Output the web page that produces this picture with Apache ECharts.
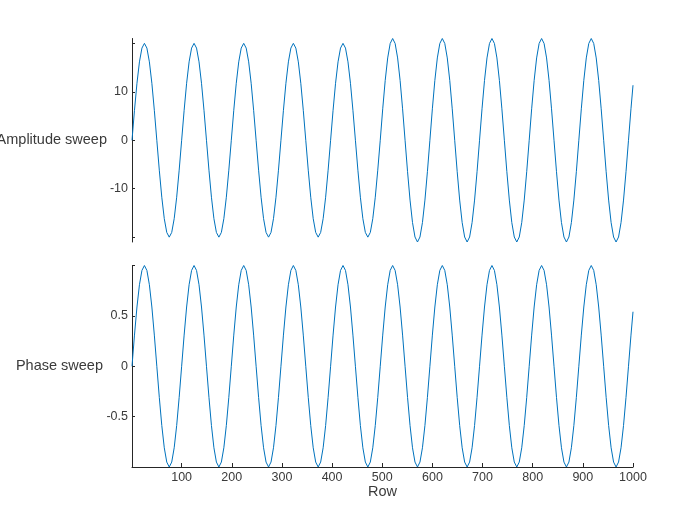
<!DOCTYPE html>
<html>
<head>
<meta charset="utf-8">
<script src="https://cdn.jsdelivr.net/npm/echarts@6/dist/echarts.min.js"></script>
<style>
html,body{margin:0;padding:0;background:#fff;}
#chart{width:700px;height:525px;}
</style>
</head>
<body>
<div id="chart"></div>
<script>
// Row positions of the read samples (about 20 per cycle)
const rows = [
  1, 5.95, 10.9, 15.85, 20.8, 25.75, 30.7, 35.65, 40.6, 45.55, 50.5, 55.45, 60.4, 65.35, 70.3, 75.25, 80.2, 85.15, 90.1, 95.05,
  100, 104.95, 109.9, 114.85, 119.8, 124.75, 129.7, 134.65, 139.6, 144.55, 149.5, 154.45, 159.4, 164.35, 169.3, 174.25, 179.2, 184.15, 189.1, 194.05,
  199, 203.95, 208.9, 213.85, 218.8, 223.75, 228.7, 233.65, 238.6, 243.55, 248.5, 253.45, 258.4, 263.35, 268.3, 273.25, 278.2, 283.15, 288.1, 293.05,
  298, 302.95, 307.9, 312.85, 317.8, 322.75, 327.7, 332.65, 337.6, 342.55, 347.5, 352.45, 357.4, 362.35, 367.3, 372.25, 377.2, 382.15, 387.1, 392.05,
  397, 401.95, 406.9, 411.85, 416.8, 421.75, 426.7, 431.65, 436.6, 441.55, 446.5, 451.45, 456.4, 461.35, 466.3, 471.25, 476.2, 481.15, 486.1, 491.05,
  496, 500.95, 505.9, 510.85, 515.8, 520.75, 525.7, 530.65, 535.6, 540.55, 545.5, 550.45, 555.4, 560.35, 565.3, 570.25, 575.2, 580.15, 585.1, 590.05,
  595, 599.95, 604.9, 609.85, 614.8, 619.75, 624.7, 629.65, 634.6, 639.55, 644.5, 649.45, 654.4, 659.35, 664.3, 669.25, 674.2, 679.15, 684.1, 689.05,
  694, 698.95, 703.9, 708.85, 713.8, 718.75, 723.7, 728.65, 733.6, 738.55, 743.5, 748.45, 753.4, 758.35, 763.3, 768.25, 773.2, 778.15, 783.1, 788.05,
  793, 797.95, 802.9, 807.85, 812.8, 817.75, 822.7, 827.65, 832.6, 837.55, 842.5, 847.45, 852.4, 857.35, 862.3, 867.25, 872.2, 877.15, 882.1, 887.05,
  892, 896.95, 901.9, 906.85, 911.8, 916.75, 921.7, 926.65, 931.6, 936.55, 941.5, 946.45, 951.4, 956.35, 961.3, 966.25, 971.2, 976.15, 981.1, 986.05,
  991, 995.95, 1000
];

const amplitudeSweep = [
  0, 6.18, 11.76, 16.18, 19.02, 20, 19.02, 16.18, 11.76, 6.18, 0, -6.18, -11.76, -16.18, -19.02, -20, -19.02, -16.18, -11.76, -6.18,
  0, 6.18, 11.76, 16.18, 19.02, 20, 19.02, 16.18, 11.76, 6.18, 0, -6.18, -11.76, -16.18, -19.02, -20, -19.02, -16.18, -11.76, -6.18,
  0, 6.18, 11.76, 16.18, 19.02, 20, 19.02, 16.18, 11.76, 6.18, 0, -6.18, -11.76, -16.18, -19.02, -20, -19.02, -16.18, -11.76, -6.18,
  0, 6.18, 11.76, 16.18, 19.02, 20, 19.02, 16.18, 11.76, 6.18, 0, -6.18, -11.76, -16.18, -19.02, -20, -19.02, -16.18, -11.76, -6.18,
  0, 6.18, 11.76, 16.18, 19.02, 20, 19.02, 16.18, 11.76, 6.18, 0, -6.18, -11.76, -16.18, -19.02, -20, -19.02, -16.18, -11.76, -6.18,
  0, 6.49, 12.35, 16.99, 19.97, 21, 19.97, 16.99, 12.35, 6.49, 0, -6.49, -12.35, -16.99, -19.97, -21, -19.97, -16.99, -12.35, -6.49,
  0, 6.49, 12.35, 16.99, 19.97, 21, 19.97, 16.99, 12.35, 6.49, 0, -6.49, -12.35, -16.99, -19.97, -21, -19.97, -16.99, -12.35, -6.49,
  0, 6.49, 12.35, 16.99, 19.97, 21, 19.97, 16.99, 12.35, 6.49, 0, -6.49, -12.35, -16.99, -19.97, -21, -19.97, -16.99, -12.35, -6.49,
  0, 6.49, 12.35, 16.99, 19.97, 21, 19.97, 16.99, 12.35, 6.49, 0, -6.49, -12.35, -16.99, -19.97, -21, -19.97, -16.99, -12.35, -6.49,
  0, 6.49, 12.35, 16.99, 19.97, 21, 19.97, 16.99, 12.35, 6.49, 0, -6.49, -12.35, -16.99, -19.97, -21, -19.97, -16.99, -12.35, -6.49,
  0, 6.49, 11.36
];

const phaseSweep = [
  0, 0.309, 0.588, 0.809, 0.951, 1, 0.951, 0.809, 0.588, 0.309, 0, -0.309, -0.588, -0.809, -0.951, -1, -0.951, -0.809, -0.588, -0.309,
  0, 0.309, 0.588, 0.809, 0.951, 1, 0.951, 0.809, 0.588, 0.309, 0, -0.309, -0.588, -0.809, -0.951, -1, -0.951, -0.809, -0.588, -0.309,
  0, 0.309, 0.588, 0.809, 0.951, 1, 0.951, 0.809, 0.588, 0.309, 0, -0.309, -0.588, -0.809, -0.951, -1, -0.951, -0.809, -0.588, -0.309,
  0, 0.309, 0.588, 0.809, 0.951, 1, 0.951, 0.809, 0.588, 0.309, 0, -0.309, -0.588, -0.809, -0.951, -1, -0.951, -0.809, -0.588, -0.309,
  0, 0.309, 0.588, 0.809, 0.951, 1, 0.951, 0.809, 0.588, 0.309, 0, -0.309, -0.588, -0.809, -0.951, -1, -0.951, -0.809, -0.588, -0.309,
  0, 0.309, 0.588, 0.809, 0.951, 1, 0.951, 0.809, 0.588, 0.309, 0, -0.309, -0.588, -0.809, -0.951, -1, -0.951, -0.809, -0.588, -0.309,
  0, 0.309, 0.588, 0.809, 0.951, 1, 0.951, 0.809, 0.588, 0.309, 0, -0.309, -0.588, -0.809, -0.951, -1, -0.951, -0.809, -0.588, -0.309,
  0, 0.309, 0.588, 0.809, 0.951, 1, 0.951, 0.809, 0.588, 0.309, 0, -0.309, -0.588, -0.809, -0.951, -1, -0.951, -0.809, -0.588, -0.309,
  0, 0.309, 0.588, 0.809, 0.951, 1, 0.951, 0.809, 0.588, 0.309, 0, -0.309, -0.588, -0.809, -0.951, -1, -0.951, -0.809, -0.588, -0.309,
  0, 0.309, 0.588, 0.809, 0.951, 1, 0.951, 0.809, 0.588, 0.309, 0, -0.309, -0.588, -0.809, -0.951, -1, -0.951, -0.809, -0.588, -0.309,
  0, 0.309, 0.541
];

const xTicks = [100, 200, 300, 400, 500, 600, 700, 800, 900, 1000];
const ampTicks = [-20, -10, 0, 10, 20];
const ampTickLabels = [-10, 0, 10];
const phaseTicks = [-1, -0.5, 0, 0.5, 1];
const phaseTickLabels = [-0.5, 0, 0.5];
const panelNames = ['Amplitude sweep', 'Phase sweep'];
const xName = 'Row';

const axisColor = '#262626';
const labelColor = '#3a3a3a';
const font = '"Liberation Sans", Arial, Helvetica, sans-serif';

function zip(xs, ys) { return xs.map((x, i) => [x, ys[i]]); }
function plain(v) { return String(v); }

const chart = echarts.init(document.getElementById('chart'), null, { renderer: 'canvas' });

const yCommon = {
  type: 'value',
  nameLocation: 'middle',
  nameRotate: 0,
  nameMoveOverlap: false,
  nameTextStyle: { color: labelColor, fontSize: 14.5, fontFamily: font },
  axisLine: { show: true, onZero: false, lineStyle: { color: axisColor, width: 1 } },
  axisTick: { show: true, inside: true, length: 3, lineStyle: { color: axisColor } },
  axisLabel: { color: labelColor, fontSize: 12.5, fontFamily: font, margin: 4, formatter: plain },
  splitLine: { show: false }
};

chart.setOption({
  animation: false,
  backgroundColor: '#ffffff',
  grid: [
    { left: 132, width: 501, top: 38.5, height: 203.5, containLabel: false, outerBoundsMode: 'none' },
    { left: 132, width: 501, top: 265.5, height: 201.5, containLabel: false, outerBoundsMode: 'none' }
  ],
  xAxis: [
    {
      type: 'value', gridIndex: 0, min: 1, max: 1000,
      show: false
    },
    {
      type: 'value', gridIndex: 1, min: 1, max: 1000,
      name: xName, nameLocation: 'middle', nameGap: 17, nameMoveOverlap: false,
      nameTextStyle: { color: labelColor, fontSize: 14.5, fontFamily: font },
      axisLine: { show: true, onZero: false, lineStyle: { color: axisColor, width: 1 } },
      axisTick: { show: true, inside: true, length: 4, customValues: xTicks, lineStyle: { color: axisColor } },
      axisLabel: { color: labelColor, fontSize: 12.5, fontFamily: font, margin: 4, customValues: xTicks, formatter: plain },
      splitLine: { show: false }
    }
  ],
  yAxis: [
    Object.assign({}, yCommon, {
      gridIndex: 0, min: -21, max: 21, name: panelNames[0], nameGap: 25,
      axisTick: Object.assign({}, yCommon.axisTick, { customValues: ampTicks }),
      axisLabel: Object.assign({}, yCommon.axisLabel, { customValues: ampTickLabels })
    }),
    Object.assign({}, yCommon, {
      gridIndex: 1, min: -1, max: 1, name: panelNames[1], nameGap: 29,
      axisTick: Object.assign({}, yCommon.axisTick, { customValues: phaseTicks }),
      axisLabel: Object.assign({}, yCommon.axisLabel, { customValues: phaseTickLabels })
    })
  ],
  series: [
    {
      type: 'line', xAxisIndex: 0, yAxisIndex: 0,
      data: zip(rows, amplitudeSweep),
      showSymbol: false, clip: false,
      lineStyle: { color: '#0072BD', width: 1 },
      itemStyle: { color: '#0072BD' }
    },
    {
      type: 'line', xAxisIndex: 1, yAxisIndex: 1,
      data: zip(rows, phaseSweep),
      showSymbol: false, clip: false,
      lineStyle: { color: '#0072BD', width: 1 },
      itemStyle: { color: '#0072BD' }
    }
  ]
});
</script>
</body>
</html>
